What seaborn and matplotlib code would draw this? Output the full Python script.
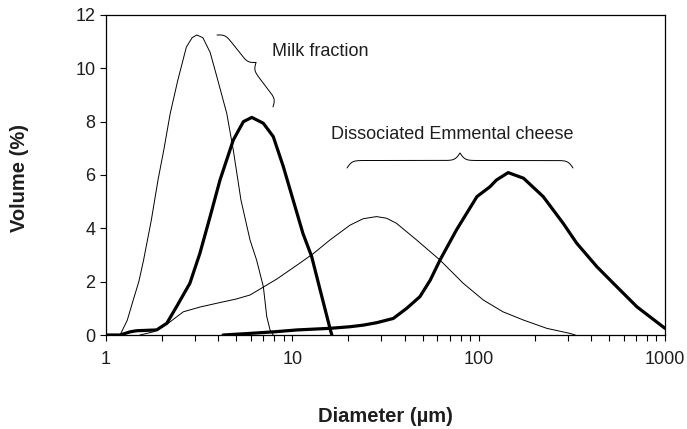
import matplotlib
matplotlib.use("Agg")
import matplotlib.pyplot as plt
import numpy as np
import pandas as pd
import seaborn as sns
from matplotlib.ticker import FixedLocator, LogLocator, NullFormatter

# ─── Data ─────────────────────────────────────────────────────────────────────
milk_thin_x = [1.19, 1.3, 1.4, 1.5, 1.59, 1.75, 1.90, 2.05, 2.21, 2.43, 2.7, 2.9, 3.07,
               3.31, 3.62, 3.93, 4.45, 4.82, 5.3, 5.93, 6.43, 6.99, 7.29, 7.59, 7.9]
milk_thin_y = [0.0, 0.55, 1.31, 2.0, 2.8, 4.3, 5.8, 7.0, 8.3, 9.56, 10.8, 11.15, 11.25,
               11.15, 10.6, 9.7, 8.3, 6.94, 5.06, 3.56, 2.81, 1.81, 0.69, 0.19, 0.0]

milk_thick_x = [1.0, 1.19, 1.35, 1.46, 1.87, 2.12, 2.39, 2.82, 3.19, 3.62, 4.09, 4.82, 5.46,
                6.06, 6.99, 7.9, 8.95, 10.1, 11.4, 12.7, 14.1, 16.0, 16.3]
milk_thick_y = [0.0, 0.0, 0.12, 0.16, 0.19, 0.44, 1.06, 1.94, 3.06, 4.44, 5.81, 7.31, 8.0,
                8.16, 7.94, 7.44, 6.31, 5.06, 3.81, 2.94, 1.69, 0.19, 0.0]

emm_thin_x = [1.52, 1.8, 2.12, 2.6, 3.2, 3.93, 5.0, 5.93, 7.0, 8.26, 10.0, 11.0, 13.0, 15.9,
              20.4, 24.0, 28.3, 32.0, 36.2, 46.5, 62.0, 82.6, 106, 135, 174, 232, 309, 330]
emm_thin_y = [0.0, 0.12, 0.4, 0.87, 1.05, 1.19, 1.35, 1.5, 1.8, 2.1, 2.5, 2.7, 3.06, 3.56,
              4.12, 4.36, 4.44, 4.38, 4.19, 3.56, 2.81, 1.94, 1.31, 0.87, 0.56, 0.25, 0.06, 0.0]

emm_thick_x = [4.25, 5.93, 8.0, 10.6, 15.9, 20.4, 24.0, 28.3, 34.8, 41.1, 48.4, 55.0, 62.0,
               76.0, 97.9, 115, 124.5, 144, 174, 222, 284, 336, 431, 528, 706, 1000]
emm_thick_y = [0.0, 0.06, 0.12, 0.19, 0.25, 0.31, 0.37, 0.46, 0.62, 1.0, 1.44, 2.06, 2.81,
               3.94, 5.19, 5.56, 5.81, 6.09, 5.88, 5.19, 4.19, 3.44, 2.56, 1.94, 1.06, 0.25]

x_ticks = [1, 10, 100, 1000]
y_ticks = [0, 2, 4, 6, 8, 10, 12]

# ─── Style ────────────────────────────────────────────────────────────────────
sns.set_theme(style="ticks")
plt.rcParams["font.family"] = ["Liberation Sans", "DejaVu Sans"]

W, H = 687, 429
TEXT = "#1e1e1e"
fig = plt.figure(figsize=(W / 100, H / 100), dpi=100)
ax = fig.add_axes([106 / W, 1 - 335 / H, 559 / W, 320 / H])

series = [
    (milk_thin_x, milk_thin_y, 0.7),
    (milk_thick_x, milk_thick_y, 2.3),
    (emm_thin_x, emm_thin_y, 0.7),
    (emm_thick_x, emm_thick_y, 2.3),
]
for xs, ys, lw in series:
    df = pd.DataFrame({"x": xs, "y": ys})
    sns.lineplot(data=df, x="x", y="y", ax=ax, color="black", linewidth=lw,
                 estimator=None, sort=False)

ax.set_xscale("log")
ax.set_xlim(1, 1000)
ax.set_ylim(0, 12)
ax.xaxis.set_major_locator(FixedLocator(x_ticks))
ax.set_xticklabels([str(t) for t in x_ticks])
ax.xaxis.set_minor_locator(LogLocator(base=10, subs=np.arange(2, 10)))
ax.xaxis.set_minor_formatter(NullFormatter())
ax.set_yticks(y_ticks)
ax.set_yticklabels([str(t) for t in y_ticks])

for sp in ax.spines.values():
    sp.set_color("black")
    sp.set_linewidth(0.9)

ax.tick_params(axis="x", which="both", direction="out", length=4.5, width=0.8,
               color="black", pad=7, labelsize=13, labelcolor=TEXT)
ax.tick_params(axis="y", which="major", direction="out", length=4.5, width=0.8,
               color="black", pad=3, labelsize=13, labelcolor=TEXT)

ax.set_xlabel("Diameter (µm)", fontsize=14.5, fontweight="bold", color=TEXT)
ax.set_ylabel("Volume (%)", fontsize=14.5, fontweight="bold", color=TEXT)
ax.xaxis.label.set_va("center")
ax.yaxis.label.set_va("center")
ax.xaxis.set_label_coords(0.5, (335 - 416) / 320)
ax.yaxis.set_label_coords((20 - 106) / 559, (335 - 178) / 320)


# ─── Curly braces (figure pixel space, y down) ────────────────────────────────
def brace(p0, p1, width, n=300, beta=0.4):
    p0, p1 = np.array(p0, float), np.array(p1, float)
    d = p1 - p0
    L = np.hypot(*d)
    u = d / L
    nvec = np.array([u[1], -u[0]])  # normal on the left when y points down
    s = np.linspace(0, L / 2, n // 2)
    half = 1 / (1 + np.exp(-beta * s)) + 1 / (1 + np.exp(-beta * (s - L / 2)))
    half = (half - half[0]) / (half[-1] - half[0])
    along = np.concatenate([s, L - s[::-1]])
    off = np.concatenate([half, half[::-1]]) * width
    pts = p0[None, :] + along[:, None] * u[None, :] + off[:, None] * nvec[None, :]
    return pts[:, 0] / W, 1 - pts[:, 1] / H


for start, end, w in [((347, 168), (573, 168), 15), ((217, 35), (273, 107), 14)]:
    bx, by = brace(start, end, w)
    fig.add_artist(plt.Line2D(bx, by, color="black", linewidth=0.7,
                              transform=fig.transFigure))

fig.text(272 / W, 1 - 51 / H, "Milk fraction", fontsize=13, va="center", ha="left",
         color=TEXT)
fig.text(452 / W, 1 - 134 / H, "Dissociated Emmental cheese", fontsize=13, va="center",
         ha="center", color=TEXT)

fig.savefig("out.png", dpi=100)
